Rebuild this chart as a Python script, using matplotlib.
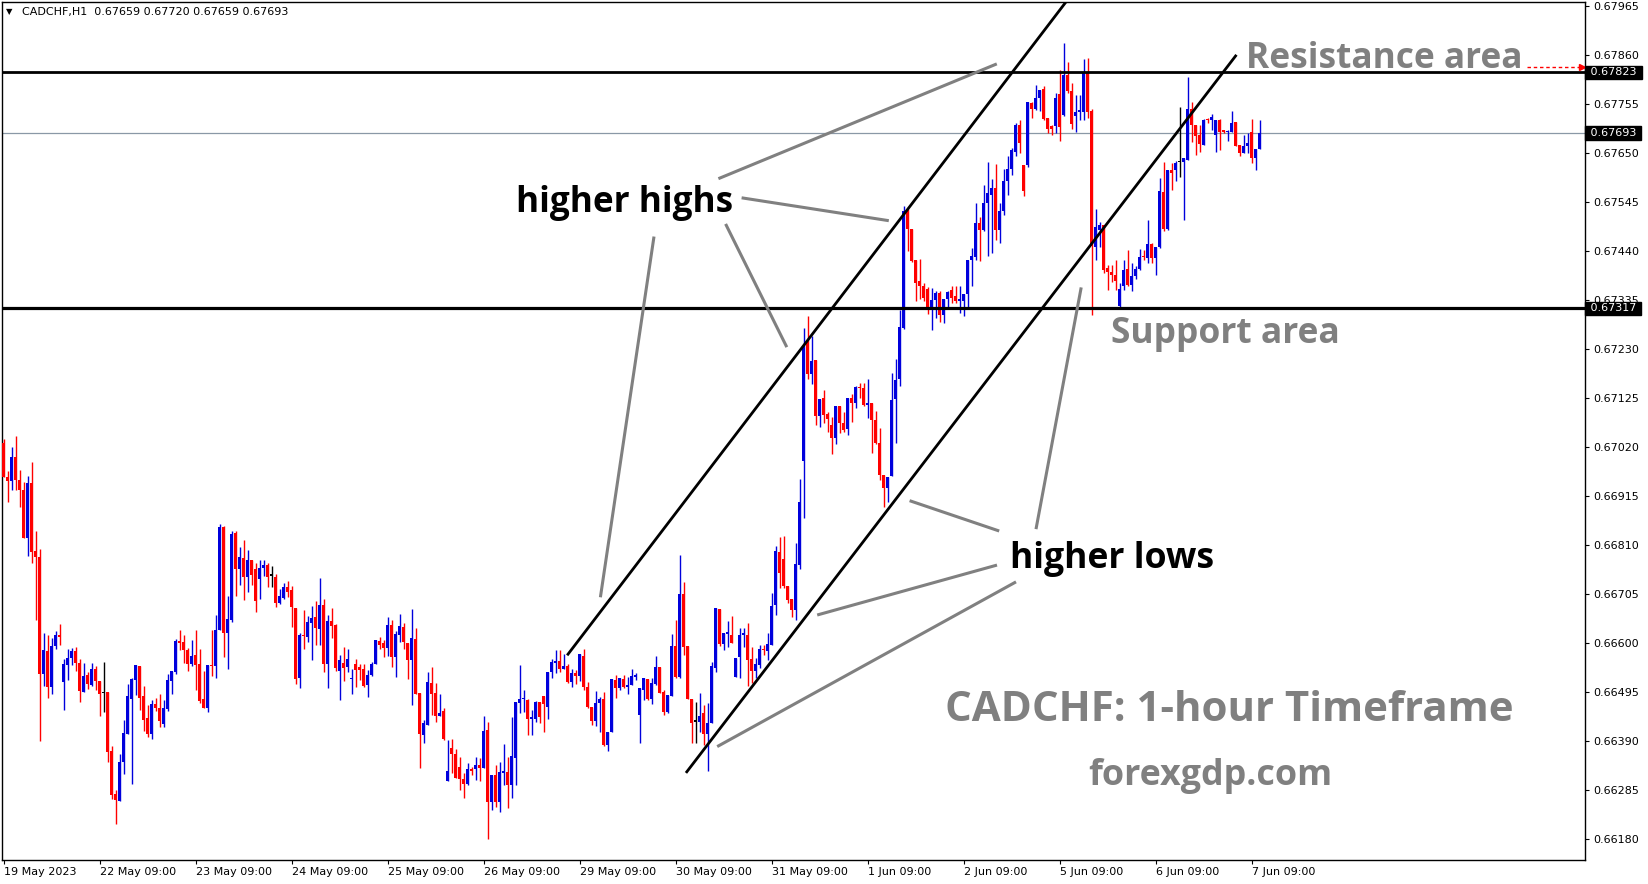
import numpy as np
import matplotlib
matplotlib.use("Agg")
import matplotlib.pyplot as plt
import matplotlib.transforms as mtransforms

# CADCHF H1 candles, prices in 1e-5 units
opens = [67028, 66955, 66948, 66999, 66950, 66927, 66826, 66942, 66797, 66785,
         66534, 66582, 66505, 66594, 66617, 66517, 66553, 66567, 66583, 66558,
         66496, 66532, 66510, 66545, 66518, 66493, 66494, 66369, 66277, 66262,
         66344, 66405, 66481, 66521, 66551, 66487, 66439, 66405, 66470, 66460,
         66427, 66458, 66518, 66537, 66605, 66603, 66585, 66555, 66575, 66555,
         66480, 66460, 66551, 66550, 66628, 66848, 66621, 66650, 66835, 66758,
         66783, 66742, 66778, 66759, 66737, 66760, 66767, 66744, 66742, 66685,
         66696, 66721, 66714, 66675, 66525, 66617, 66613, 66643, 66655, 66630,
         66681, 66556, 66648, 66638, 66540, 66558, 66548, 66523, 66555, 66549,
         66545, 66510, 66531, 66555, 66605, 66600, 66590, 66638, 66570, 66618,
         66635, 66601, 66563, 66608, 66492, 66403, 66424, 66515, 66493, 66443,
         66455, 66304, 66374, 66363, 66335, 66308, 66298, 66331, 66329, 66338,
         66333, 66413, 66260, 66317, 66260, 66322, 66324, 66296, 66353, 66472,
         66479, 66478, 66438, 66438, 66474, 66486, 66462, 66538, 66558, 66562,
         66545, 66551, 66517, 66536, 66529, 66573, 66505, 66463, 66433, 66472,
         66480, 66381, 66410, 66520, 66503, 66523, 66505, 66510, 66528, 66445,
         66499, 66523, 66481, 66513, 66549, 66494, 66453, 66486, 66594, 66528,
         66706, 66594, 66479, 66431, 66430, 66450, 66405, 66428, 66546, 66672,
         66598, 66620, 66617, 66528, 66571, 66617, 66617, 66565, 66541, 66553,
         66587, 66582, 66596, 66682, 66796, 66780, 66722, 66694, 66670, 66767,
         66990, 67244, 67176, 67206, 67087, 67124, 67091, 67067, 67040, 67108,
         67071, 67058, 67126, 67115, 67148, 67147, 67110, 67114, 67078, 67028,
         66960, 66932, 66957, 67122, 67165, 67275, 67525, 67487, 67421, 67375,
         67365, 67358, 67316, 67334, 67350, 67303, 67337, 67357, 67344, 67332,
         67332, 67348, 67420, 67428, 67501, 67484, 67543, 67560, 67575, 67485,
         67525, 67591, 67616, 67653, 67709, 67625, 67625, 67757, 67745, 67768,
         67787, 67725, 67708, 67707, 67777, 67732, 67818, 67782, 67730, 67737,
         67737, 67821, 67739, 67448, 67486, 67496, 67403, 67396, 67389, 67322,
         67366, 67402, 67368, 67386, 67401, 67430, 67425, 67456, 67425, 67448,
         67566, 67487, 67613, 67613, 67630, 67630, 67634, 67745, 67711, 67689,
         67668, 67723, 67720, 67689, 67720, 67698, 67694, 67696, 67717, 67668,
         67651, 67664, 67694, 67639, 67659]
highs = [67037, 66969, 67021, 67044, 66971, 66946, 66958, 66987, 66839, 66801,
         66622, 66617, 66610, 66625, 66641, 66565, 66587, 66589, 66591, 66565,
         66557, 66537, 66557, 66551, 66519, 66559, 66494, 66380, 66284, 66363,
         66435, 66512, 66525, 66553, 66551, 66507, 66468, 66478, 66482, 66491,
         66477, 66534, 66541, 66609, 66628, 66617, 66589, 66607, 66627, 66587,
         66541, 66553, 66628, 66660, 66855, 66851, 66700, 66841, 66841, 66805,
         66821, 66799, 66778, 66771, 66778, 66777, 66772, 66765, 66748, 66715,
         66728, 66732, 66722, 66675, 66621, 66670, 66658, 66679, 66690, 66740,
         66695, 66660, 66676, 66640, 66574, 66592, 66588, 66545, 66565, 66556,
         66555, 66542, 66560, 66606, 66613, 66606, 66656, 66650, 66626, 66663,
         66642, 66601, 66672, 66633, 66492, 66435, 66538, 66549, 66515, 66490,
         66460, 66393, 66395, 66373, 66356, 66321, 66342, 66335, 66356, 66353,
         66443, 66431, 66317, 66338, 66345, 66383, 66356, 66442, 66474, 66553,
         66500, 66481, 66456, 66476, 66474, 66486, 66538, 66565, 66586, 66586,
         66576, 66556, 66545, 66543, 66576, 66587, 66517, 66463, 66498, 66485,
         66495, 66410, 66522, 66531, 66526, 66531, 66527, 66545, 66536, 66503,
         66524, 66523, 66524, 66573, 66549, 66500, 66488, 66620, 66649, 66788,
         66731, 66594, 66479, 66474, 66492, 66467, 66471, 66560, 66675, 66672,
         66622, 66648, 66658, 66568, 66632, 66632, 66642, 66592, 66567, 66596,
         66596, 66621, 66708, 66808, 66827, 66829, 66722, 66694, 66815, 66951,
         67274, 67301, 67258, 67206, 67123, 67142, 67094, 67085, 67107, 67108,
         67094, 67124, 67134, 67151, 67157, 67158, 67165, 67114, 67098, 67060,
         66960, 66955, 67179, 67208, 67314, 67537, 67530, 67487, 67421, 67423,
         67371, 67363, 67361, 67355, 67355, 67337, 67355, 67364, 67364, 67364,
         67348, 67420, 67446, 67543, 67513, 67582, 67630, 67594, 67627, 67543,
         67616, 67643, 67660, 67714, 67721, 67625, 67760, 67760, 67796, 67785,
         67793, 67725, 67710, 67778, 67828, 67885, 67846, 67800, 67775, 67775,
         67851, 67853, 67744, 67529, 67503, 67496, 67410, 67410, 67421, 67371,
         67421, 67443, 67414, 67407, 67444, 67443, 67507, 67457, 67448, 67596,
         67630, 67614, 67628, 67632, 67748, 67639, 67813, 67760, 67711, 67711,
         67723, 67725, 67734, 67721, 67723, 67700, 67700, 67739, 67717, 67668,
         67689, 67693, 67723, 67658, 67720]
lows = [66955, 66903, 66928, 66927, 66892, 66826, 66787, 66772, 66650, 66389,
        66508, 66483, 66491, 66587, 66596, 66457, 66520, 66553, 66541, 66474,
        66496, 66502, 66507, 66500, 66444, 66453, 66344, 66265, 66213, 66261,
        66320, 66405, 66298, 66489, 66457, 66412, 66398, 66394, 66455, 66420,
        66421, 66455, 66491, 66534, 66584, 66558, 66539, 66550, 66500, 66471,
        66460, 66453, 66530, 66524, 66627, 66570, 66544, 66646, 66700, 66725,
        66692, 66710, 66725, 66667, 66694, 66744, 66721, 66721, 66678, 66684,
        66694, 66698, 66634, 66512, 66503, 66588, 66603, 66563, 66595, 66595,
        66538, 66503, 66610, 66540, 66478, 66519, 66538, 66490, 66505, 66520,
        66505, 66485, 66529, 66555, 66588, 66570, 66572, 66548, 66528, 66603,
        66588, 66523, 66468, 66490, 66333, 66386, 66424, 66445, 66431, 66443,
        66392, 66304, 66321, 66310, 66286, 66268, 66296, 66317, 66306, 66305,
        66333, 66181, 66242, 66249, 66238, 66296, 66246, 66267, 66296, 66449,
        66453, 66403, 66403, 66431, 66429, 66410, 66438, 66526, 66536, 66538,
        66545, 66515, 66506, 66513, 66519, 66499, 66460, 66424, 66422, 66410,
        66379, 66369, 66410, 66483, 66500, 66503, 66490, 66510, 66520, 66386,
        66478, 66478, 66470, 66510, 66492, 66445, 66449, 66486, 66524, 66524,
        66574, 66479, 66386, 66386, 66410, 66382, 66325, 66428, 66537, 66594,
        66584, 66591, 66601, 66528, 66525, 66592, 66507, 66514, 66525, 66546,
        66574, 66564, 66596, 66660, 66717, 66717, 66685, 66655, 66650, 66758,
        66867, 67165, 67155, 67067, 67062, 67072, 67053, 67005, 67026, 67051,
        67053, 67046, 67074, 67103, 67124, 67108, 67082, 67007, 67027, 66949,
        66891, 66903, 66957, 67029, 67150, 67273, 67439, 67416, 67332, 67337,
        67332, 67306, 67270, 67296, 67287, 67286, 67318, 67328, 67329, 67308,
        67300, 67318, 67364, 67420, 67418, 67482, 67430, 67435, 67464, 67457,
        67518, 67560, 67603, 67643, 67651, 67557, 67621, 67725, 67743, 67739,
        67721, 67693, 67689, 67693, 67675, 67730, 67779, 67701, 67696, 67721,
        67721, 67725, 67303, 67421, 67449, 67392, 67356, 67374, 67356, 67318,
        67357, 67366, 67354, 67380, 67400, 67421, 67414, 67414, 67389, 67446,
        67482, 67486, 67571, 67589, 67598, 67506, 67634, 67673, 67646, 67653,
        67668, 67714, 67700, 67653, 67656, 67693, 67675, 67696, 67664, 67643,
        67651, 67650, 67628, 67613, 67658]
closes = [66955, 66948, 66999, 66950, 66927, 66826, 66942, 66794, 66785, 66534,
          66585, 66505, 66594, 66617, 66612, 66555, 66567, 66583, 66558, 66498,
          66530, 66513, 66545, 66518, 66491, 66493, 66367, 66275, 66263, 66346,
          66408, 66487, 66522, 66553, 66482, 66435, 66405, 66470, 66460, 66432,
          66460, 66521, 66541, 66605, 66601, 66584, 66555, 66572, 66553, 66475,
          66460, 66553, 66550, 66628, 66848, 66621, 66651, 66834, 66758, 66785,
          66742, 66778, 66745, 66689, 66760, 66767, 66742, 66744, 66685, 66700,
          66721, 66710, 66677, 66522, 66617, 66615, 66645, 66653, 66633, 66681,
          66555, 66648, 66636, 66547, 66563, 66547, 66565, 66526, 66543, 66542,
          66508, 66531, 66556, 66606, 66595, 66590, 66638, 66570, 66620, 66636,
          66603, 66563, 66610, 66490, 66405, 66428, 66517, 66490, 66443, 66451,
          66394, 66326, 66363, 66310, 66308, 66298, 66331, 66326, 66338, 66333,
          66412, 66260, 66317, 66260, 66324, 66326, 66296, 66358, 66474, 66479,
          66481, 66438, 66442, 66474, 66442, 66469, 66538, 66560, 66562, 66545,
          66551, 66517, 66536, 66529, 66576, 66505, 66462, 66433, 66472, 66480,
          66381, 66410, 66522, 66503, 66526, 66506, 66510, 66529, 66532, 66503,
          66524, 66481, 66515, 66549, 66492, 66453, 66488, 66594, 66528, 66705,
          66592, 66479, 66429, 66431, 66444, 66405, 66428, 66550, 66675, 66598,
          66622, 66624, 66601, 66567, 66617, 66621, 66564, 66541, 66555, 66587,
          66584, 66598, 66680, 66798, 66751, 66722, 66692, 66670, 66769, 66903,
          67235, 67176, 67204, 67087, 67123, 67089, 67080, 67040, 67107, 67071,
          67057, 67124, 67115, 67148, 67146, 67110, 67114, 67078, 67028, 66960,
          66932, 66955, 67121, 67164, 67277, 67525, 67487, 67418, 67371, 67364,
          67339, 67316, 67336, 67351, 67303, 67337, 67353, 67339, 67332, 67337,
          67348, 67420, 67430, 67501, 67484, 67543, 67564, 67575, 67485, 67526,
          67591, 67616, 67657, 67709, 67671, 67568, 67760, 67745, 67768, 67785,
          67723, 67702, 67701, 67768, 67706, 67818, 67782, 67713, 67737, 67743,
          67821, 67737, 67450, 67492, 67496, 67399, 67396, 67389, 67376, 67358,
          67400, 67368, 67387, 67401, 67427, 67427, 67456, 67425, 67448, 67568,
          67487, 67613, 67608, 67628, 67630, 67639, 67745, 67711, 67686, 67670,
          67721, 67720, 67727, 67720, 67696, 67696, 67698, 67714, 67666, 67651,
          67664, 67671, 67639, 67658, 67693]

date_ticks = [0, 24, 48, 72, 96, 120, 144, 168, 192, 216, 240, 264, 288, 312]
date_labels = ["19 May 2023", "22 May 09:00", "23 May 09:00", "24 May 09:00",
               "25 May 09:00", "26 May 09:00", "29 May 09:00", "30 May 09:00",
               "31 May 09:00", "1 Jun 09:00", "2 Jun 09:00", "5 Jun 09:00",
               "6 Jun 09:00", "7 Jun 09:00"]

resistance = 0.67823
support = 0.67317
last_price = 0.67693

# channel lines (bar index, price)
channel_upper = [(141.1, 0.66576), (265.35, 0.67971)]
channel_lower = [(170.8, 0.66324), (308.0, 0.67858)]

pointers_highs = [[(178.7, 0.67595), (248.3, 0.67841)],
                  [(184.5, 0.67554), (221.3, 0.67505)],
                  [(180.5, 0.67498), (195.8, 0.67234)],
                  [(162.6, 0.67471), (149.2, 0.66698)]]
pointers_lows = [[(248.9, 0.66840), (226.5, 0.66905)],
                 [(248.35, 0.66767), (203.4, 0.66660)],
                 [(253.1, 0.66731), (178.4, 0.66378)],
                 [(258.1, 0.66844), (269.4, 0.67362)]]

o = np.array(opens) / 1e5
h = np.array(highs) / 1e5
l = np.array(lows) / 1e5
c = np.array(closes) / 1e5
x = np.arange(len(o))

fig = plt.figure(figsize=(16.49, 8.84), dpi=100)
ax = fig.add_axes([2 / 1649, 24 / 884, 1583 / 1649, 858 / 884])
ax.set_xlim(-0.4, 395.35)
ax.set_ylim(0.66135, 0.679736)

BLUE = "#0000dc"
RED = "#ff0000"
GRAY = "#808080"

colors = np.where(c > o, BLUE, np.where(c < o, RED, "black"))
ax.vlines(x, l, h, colors=colors, lw=1.0, zorder=3)
body = np.maximum(np.abs(c - o), 0.00003)
ax.bar(x, body, bottom=np.minimum(o, c), width=0.7, color=colors,
       linewidth=0, zorder=3)

# horizontal levels
ax.axhline(last_price, color="#8a98a6", lw=0.9, zorder=2)
ax.axhline(resistance, color="black", lw=2.0, zorder=4)
ax.axhline(support, color="black", lw=2.3, zorder=4)

# channel
for line in (channel_upper, channel_lower):
    xs, ys = zip(*line)
    ax.plot(xs, ys, color="black", lw=2.0, zorder=5)

for seg in pointers_highs + pointers_lows:
    xs, ys = zip(*seg)
    ax.plot(xs, ys, color=GRAY, lw=2.2, zorder=5, solid_capstyle="butt")

# red dotted arrow to the resistance price
ax.plot([380.8, 394.2], [0.67834, 0.67834], color="red", lw=1.0,
        ls=(0, (2.5, 2)), zorder=6, clip_on=False)
ax.plot([394.6], [0.67834], marker=">", color="red", ms=5, zorder=6,
        clip_on=False)

labels = [("higher highs", 155.3, 0.67542, "black", 217),
          ("higher lows", 277.0, 0.66780, "black", 205),
          ("Resistance area", 345.1, 0.67852, GRAY, 276),
          ("Support area", 305.4, 0.67262, GRAY, 229),
          ("CADCHF: 1-hour Timeframe", 306.45, 0.66456, GRAY, 570),
          ("forexgdp.com", 301.7, 0.66314, GRAY, 245)]
fit = []
for s, lx, ly, col, w in labels:
    t = ax.text(lx, ly, s, color=col, fontsize=25, fontweight="bold",
                family="Open Sans", ha="center", va="center", zorder=7)
    fit.append((t, w))

# axes styling
for sp in ax.spines.values():
    sp.set_color("black")
    sp.set_linewidth(1.0)
ax.yaxis.tick_right()
yt = np.round(np.arange(0.66180, 0.679651, 0.00105), 5)
ax.set_yticks(yt)
ax.set_yticklabels(["%.5f" % v for v in yt])
ax.set_xticks(date_ticks)
ax.set_xticklabels(date_labels, ha="left")
ax.tick_params(axis="both", direction="out", length=3, width=0.8,
               labelsize=8, colors="black")
ax.tick_params(axis="y", pad=3)
ax.tick_params(axis="x", pad=2)

# price tags on the right scale
trans = mtransforms.blended_transform_factory(ax.transAxes, ax.transData)
for p in (resistance, last_price, support):
    ax.text(1.0012, p, " %.5f " % p, transform=trans, color="white",
            fontsize=8, va="center", ha="left", zorder=8, clip_on=False,
            bbox=dict(facecolor="black", edgecolor="black", pad=1.2))

ax.text(0.0025, 0.9885, "\u25bc", transform=ax.transAxes, fontsize=6,
        va="center", ha="left")
ax.text(0.0125, 0.9885, "CADCHF,H1  0.67659 0.67720 0.67659 0.67693",
        transform=ax.transAxes, fontsize=8, va="center", ha="left")

fig.canvas.draw()
r = fig.canvas.get_renderer()
for t, w in fit:
    bb = t.get_window_extent(r)
    t.set_fontsize(t.get_fontsize() * w / bb.width)

fig.savefig("out.png", dpi=100)
